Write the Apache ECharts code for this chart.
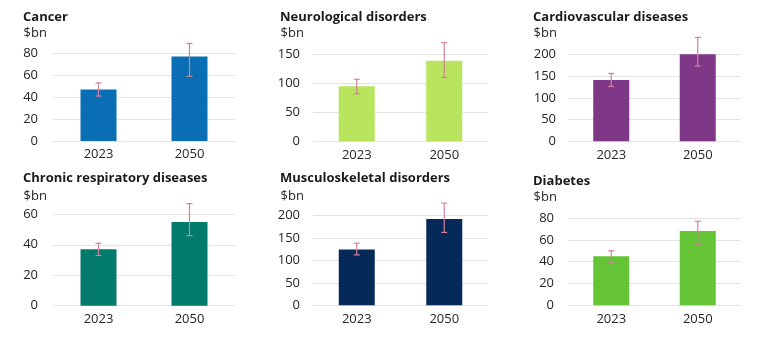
<!DOCTYPE html>
<html>
<head>
<meta charset="utf-8">
<script src="https://cdn.jsdelivr.net/npm/echarts@6/dist/echarts.min.js"></script>
<style>
  html, body { margin: 0; padding: 0; background: #ffffff; }
  #chart { width: 770px; height: 347px; }
</style>
</head>
<body>
<div id="chart"></div>
<script>
// Years shown on every panel
const categories = ['2023', '2050'];

// Projected cost ($bn) with uncertainty range, per disease group
const cancerValues = [47, 77];
const cancerLow = [41, 59];
const cancerHigh = [53, 89];

const neuroValues = [95, 139];
const neuroLow = [82, 110];
const neuroHigh = [107, 170];

const cardioValues = [141, 206];
const cardioLow = [126, 173];
const cardioHigh = [156, 239];

const respValues = [37, 55];
const respLow = [33, 46];
const respHigh = [41, 67];

const muscValues = [124, 192];
const muscLow = [112, 162];
const muscHigh = [138, 227];

const diabValues = [45, 68];
const diabLow = [39, 56];
const diabHigh = [50, 77];

// Panel titles and axis extents
const panelTitles = ['Cancer', 'Neurological disorders', 'Cardiovascular diseases',
                     'Chronic respiratory diseases', 'Musculoskeletal disorders', 'Diabetes'];
const axisMax = [80, 150, 200, 60, 200, 80];
const axisStep = [20, 50, 50, 20, 50, 20];

const panels = [
  { values: cancerValues, low: cancerLow, high: cancerHigh, color: '#0a6eb4',
    grid: { left: 53, top: 53.3, width: 182, height: 87.7 }, labelGap: 15,
    titleX: 23, titleY: 17, unitY: 33.5 },
  { values: neuroValues, low: neuroLow, high: neuroHigh, color: '#b9e45d',
    grid: { left: 313, top: 54.3, width: 175, height: 87 }, labelGap: 13,
    titleX: 280, titleY: 17, unitY: 33.5 },
  { values: cardioValues, low: cardioLow, high: cardioHigh, color: '#7e3887',
    grid: { left: 568, top: 54.3, width: 173, height: 87 }, labelGap: 12,
    titleX: 533, titleY: 17, unitY: 33.5 },
  { values: respValues, low: respLow, high: respHigh, color: '#027a6c',
    grid: { left: 53, top: 214.3, width: 182, height: 91.4 }, labelGap: 15,
    titleX: 23, titleY: 178.5, unitY: 196 },
  { values: muscValues, low: muscLow, high: muscHigh, color: '#052a5a',
    grid: { left: 313, top: 215.3, width: 175, height: 90 }, labelGap: 13,
    titleX: 280, titleY: 178.5, unitY: 196 },
  { values: diabValues, low: diabLow, high: diabHigh, color: '#64c436',
    grid: { left: 568, top: 218, width: 173, height: 87.3 }, labelGap: 14,
    titleX: 533, titleY: 181, unitY: 197.7 }
];

const FONT = '"Open Sans", "Noto Sans", sans-serif';
const TEXT = '#262626';
const ERR = '#d4809a';

const grids = [], xAxes = [], yAxes = [], series = [], graphics = [];

panels.forEach((p, i) => {
  grids.push(Object.assign({ containLabel: false }, p.grid));
  xAxes.push({
    type: 'category', gridIndex: i, data: categories,
    axisLine: { show: false }, axisTick: { show: false },
    axisLabel: { color: TEXT, fontFamily: FONT, fontSize: 13, margin: 7 }
  });
  yAxes.push({
    type: 'value', gridIndex: i, min: 0, max: axisMax[i], interval: axisStep[i],
    axisLine: { show: false }, axisTick: { show: false },
    axisLabel: { color: TEXT, fontFamily: FONT, fontSize: 13, margin: p.labelGap },
    splitLine: { lineStyle: { color: '#e3e3e3', width: 1 } }
  });
  series.push({
    type: 'bar', xAxisIndex: i, yAxisIndex: i, data: p.values,
    barWidth: 36, itemStyle: { color: p.color }, silent: true
  });
  series.push({
    type: 'custom', xAxisIndex: i, yAxisIndex: i, clip: false, silent: true, z: 5,
    data: categories.map((c, k) => [k, p.low[k], p.high[k]]),
    renderItem: function (params, api) {
      const x = api.value(0);
      const lo = api.coord([x, api.value(1)]);
      const hi = api.coord([x, api.value(2)]);
      const cap = 3;
      const st = { stroke: ERR, lineWidth: 1.2 };
      return {
        type: 'group',
        children: [
          { type: 'line', shape: { x1: lo[0], y1: lo[1], x2: hi[0], y2: hi[1] }, style: st },
          { type: 'line', shape: { x1: hi[0] - cap, y1: hi[1], x2: hi[0] + cap, y2: hi[1] }, style: st },
          { type: 'line', shape: { x1: lo[0] - cap, y1: lo[1], x2: lo[0] + cap, y2: lo[1] }, style: st }
        ]
      };
    }
  });
  graphics.push({
    type: 'text', x: p.titleX, y: p.titleY,
    style: { text: panelTitles[i], font: 'bold 13px ' + FONT, fill: '#1a1a1a',
             align: 'left', verticalAlign: 'middle' }
  });
  graphics.push({
    type: 'text', x: p.titleX + 0.5, y: p.unitY,
    style: { text: '$bn', font: '13px ' + FONT, fill: TEXT,
             align: 'left', verticalAlign: 'middle' }
  });
});

const chart = echarts.init(document.getElementById('chart'), null, { renderer: 'canvas' });
chart.setOption({
  backgroundColor: '#ffffff',
  animation: false,
  grid: grids,
  xAxis: xAxes,
  yAxis: yAxes,
  series: series,
  graphic: graphics
});
</script>
</body>
</html>
